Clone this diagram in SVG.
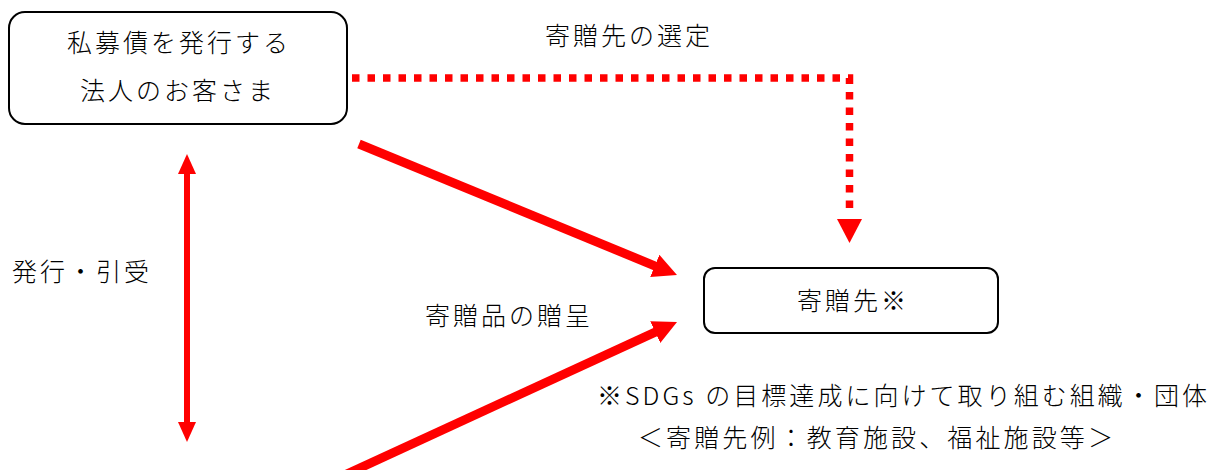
<svg xmlns="http://www.w3.org/2000/svg" width="1213" height="470" viewBox="0 0 1213 470">
<style>
.box{fill:#fff;stroke:#000;stroke-width:2}
.t{font-family:"Noto Sans CJK JP","Noto Sans",sans-serif;font-size:25px;font-weight:300;letter-spacing:3px;fill:#000}
.solid{fill:none;stroke:#ff0000;stroke-width:9}
.thin{fill:none;stroke:#ff0000;stroke-width:6}
.dot{fill:none;stroke:#ff0000;stroke-width:7.5;stroke-dasharray:7.5 8}
</style>
<defs>
<marker id="bigHead" markerUnits="userSpaceOnUse" viewBox="0 0 24 24" markerWidth="24" markerHeight="24" refX="9" refY="12" orient="auto">
<path d="M0,0 L24,12 L0,24 z" fill="#ff0000"/>
</marker>
<marker id="smallHead" markerUnits="userSpaceOnUse" viewBox="0 0 20 18" markerWidth="20" markerHeight="18" refX="7" refY="9" orient="auto-start-reverse">
<path d="M0,0 L20,9 L0,18 z" fill="#ff0000"/>
</marker>
<marker id="dotHead" markerUnits="userSpaceOnUse" viewBox="0 0 30 26" markerWidth="30" markerHeight="26" refX="0" refY="13" orient="auto">
<path d="M5,0.5 L29,13 L5,25.5 z" fill="#ff0000"/>
</marker>
</defs>
<g id="connectors">
<polyline class="dot" points="352,78 849.5,78 849.5,214" marker-end="url(#dotHead)"/>
<line class="solid" x1="359" y1="144" x2="663.1" y2="269.3" marker-end="url(#bigHead)"/>
<line class="solid" x1="323" y1="485" x2="663.4" y2="328.3" marker-end="url(#bigHead)"/>
<line class="thin" x1="187" y1="167" x2="187" y2="429" marker-start="url(#smallHead)" marker-end="url(#smallHead)"/>
</g>
<g id="node-client">
<rect class="box" x="9" y="12" width="338" height="112" rx="16" ry="16"/>
<text class="t" x="67" y="52">私募債を発行する</text>
<text class="t" x="80" y="100">法人のお客さま</text>
</g>
<g id="node-recipient">
<rect class="box" x="704" y="268" width="294" height="65" rx="11" ry="11"/>
<text class="t" x="797" y="310">寄贈先※</text>
</g>
<g id="labels">
<text class="t" x="545" y="45">寄贈先の選定</text>
<text class="t" x="12" y="281">発行・引受</text>
<text class="t" x="425" y="325">寄贈品の贈呈</text>
<text class="t" x="597" y="405" textLength="613" lengthAdjust="spacing">※SDGs の目標達成に向けて取り組む組織・団体</text>
<text class="t" x="638" y="447" textLength="478" lengthAdjust="spacing">＜寄贈先例：教育施設、福祉施設等＞</text>
</g>
</svg>
